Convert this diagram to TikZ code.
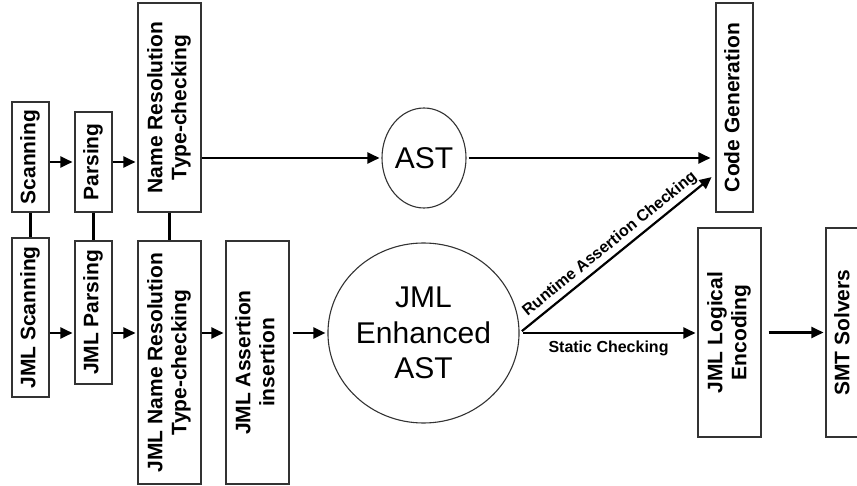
\documentclass[tikz,border=0pt]{standalone}
\usepackage{graphicx}
\usepackage{fontspec}
\setmainfont{Liberation Sans}
\usetikzlibrary{shapes.geometric,arrows.meta}

\newcommand{\uptext}[1]{\rotatebox{90}{\begin{tabular}{@{}c@{}}#1\end{tabular}}}
\tikzset{
  stage/.style={draw=black!80,line width=1.1pt,inner sep=0pt,font=\bfseries\fontsize{21}{24}\selectfont},
  tree/.style={draw=black!80,line width=1.1pt,ellipse,inner sep=0pt,align=center,font=\fontsize{30}{35.5}\selectfont},
  flow/.style={->,line width=2.2pt,shorten >=2pt},
  link/.style={line width=2.2pt},
  edgelabel/.style={font=\bfseries\fontsize{16}{18}\selectfont}
}

\begin{document}
\begin{tikzpicture}[x=1pt,y=-1pt,>={Triangle[length=12pt,width=11pt]}]
  \useasboundingbox (0,0) rectangle (857,486);
  % Java front end
  \node[stage,minimum width=37pt,minimum height=110pt] (scan) at (30.5,157) {\uptext{Scanning}};
  \node[stage,minimum width=37pt,minimum height=100pt] (parse) at (93.5,162) {\uptext{Parsing}};
  \node[stage,minimum width=63pt,minimum height=209pt] (nameres) at (169.5,107.5) {\uptext{Name Resolution\\Type-checking}};
  \node[tree,minimum width=84pt,minimum height=100pt] (ast) at (424,158) {AST};
  \node[stage,minimum width=37pt,minimum height=209pt] (codegen) at (734.5,107.5) {\uptext{Code Generation}};
  % JML front end
  \node[stage,minimum width=37pt,minimum height=159pt] (jscan) at (30.5,317.5) {\uptext{JML Scanning}};
  \node[stage,minimum width=37pt,minimum height=143pt] (jparse) at (93.5,312.5) {\uptext{JML Parsing}};
  \node[stage,minimum width=63pt,minimum height=243pt] (jnameres) at (169.5,362.5) {\uptext{JML Name Resolution\\Type-checking}};
  \node[stage,minimum width=63pt,minimum height=243pt] (jassert) at (257.5,362.5) {\uptext{JML Assertion\\insertion}};
  \node[tree,minimum width=171pt,minimum height=180pt] (enh) at (423.5,333) {JML\\Enhanced\\AST};
  \node[stage,minimum width=63pt,minimum height=209pt] (logenc) at (729.5,332.5) {\uptext{JML Logical\\Encoding}};
  \node[stage,minimum width=37pt,minimum height=209pt] (smt) at (844.5,332.5) {\uptext{SMT Solvers}};

  \draw[flow] (scan.east |- parse) -- (parse.west);
  \draw[flow] (parse.east) -- (parse.east -| nameres.west);
  \draw[flow] (nameres.east |- ast) -- (ast);
  \draw[flow,shorten <=2pt,shorten >=5pt] (ast) -- (codegen.west |- ast);

  \draw[link] (scan) -- (jscan);
  \draw[link] (parse) -- (jparse);
  \draw[link] (nameres) -- (jnameres);

  \draw[flow] (jscan.east |- enh) -- (jparse.west |- enh);
  \draw[flow] (jparse.east |- enh) -- (jnameres.west |- enh);
  \draw[flow] (jnameres.east |- enh) -- (jassert.west |- enh);
  \draw[flow,shorten <=3pt] (jassert.east |- enh) -- (enh);
  \draw[flow,shorten <=3pt,shorten >=5pt] (enh.east) -- (codegen.254)
    node[edgelabel,midway,above,sloped] {Runtime Assertion Checking};
  \draw[flow,shorten <=3pt] (enh.east) -- (enh.east -| logenc.west)
    node[edgelabel,midway,below=3pt] {Static Checking};
  \draw[flow,shorten <=7pt] (logenc) -- (smt);
\end{tikzpicture}
\end{document}
